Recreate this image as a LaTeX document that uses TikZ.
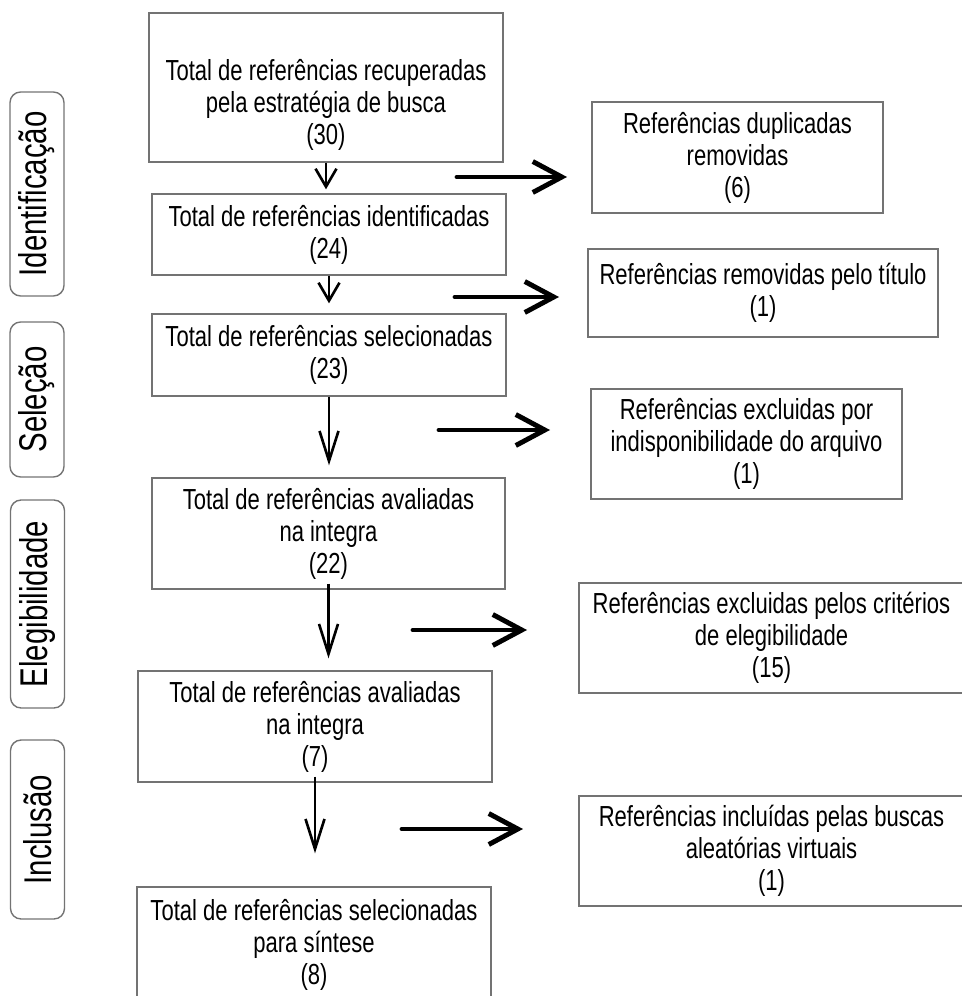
\documentclass[tikz,border=0pt]{standalone}
\usepackage{fontspec}
\setmainfont[FakeStretch=0.76]{Liberation Sans}
\usetikzlibrary{arrows.meta}

\begin{document}
\begin{tikzpicture}[
    x=0.02cm, y=-0.02cm,
    font=\fontsize{16.5pt}{18.2pt}\selectfont,
    refbox/.style={
        draw=black!55, line width=0.8pt, fill=white,
        align=center, inner sep=2pt
    },
    stagebox/.style={
        draw=black!55, line width=0.8pt, rounded corners=6pt,
        minimum height=1.08cm, inner sep=2pt, rotate=90,
        font=\fontsize{22pt}{26pt}\selectfont
    },
    downshort/.style={draw=black, line width=1.5pt,
        -{Straight Barb[length=0.36cm, width=0.42cm]}},
    downlong/.style={draw=black, line width=1.5pt,
        -{Straight Barb[length=0.6cm, width=0.38cm]}},
    sidearr/.style={draw=black, line width=2.8pt, line cap=round,
        -{Straight Barb[length=0.58cm, width=0.62cm]}}
]
\useasboundingbox (0,0) rectangle (961,996);

%% ── Etapas (esquerda) ────────────────────────────────────────────
\node[stagebox, minimum width=4.08cm] (s1) at (37,194)    {Identificação};
\node[stagebox, minimum width=3.10cm] (s2) at (37,399.5)  {Seleção};
\node[stagebox, minimum width=4.16cm] (s3) at (37.5,604)  {Elegibilidade};
\node[stagebox, minimum width=3.58cm] (s4) at (37.5,829.5){Inclusão};

%% ── Coluna principal ─────────────────────────────────────────────
\node[refbox, minimum width=7.08cm, minimum height=2.98cm] (b1) at (326,87.5)
    {\rule{0pt}{1.13cm}Total de referências recuperadas\\pela estratégia de busca\\(30)};
\node[refbox, minimum width=7.08cm, minimum height=1.62cm] (b2) at (329,234.5)
    {Total de referências identificadas\\(24)};
\node[refbox, minimum width=7.08cm, minimum height=1.64cm] (b3) at (329,355)
    {Total de referências selecionadas\\(23)};
\node[refbox, minimum width=7.06cm, minimum height=2.22cm] (b4) at (328.5,533.5)
    {Total de referências avaliadas\\na integra\\(22)};
\node[refbox, minimum width=7.08cm, minimum height=2.22cm] (b5) at (315,726.5)
    {Total de referências avaliadas\\na integra\\(7)};
\node[refbox, minimum width=7.08cm, minimum height=2.32cm] (b6) at (314,945)
    {Total de referências selecionadas\\para síntese\\(8)};

%% ── Coluna da direita ────────────────────────────────────────────
\node[refbox, minimum width=5.82cm, minimum height=2.22cm] (r1) at (737.5,157.5)
    {Referências duplicadas\\removidas\\(6)};
\node[refbox, minimum width=7.00cm, minimum height=1.76cm] (r2) at (763,293)
    {Referências removidas pelo título\\(1)};
\node[refbox, minimum width=6.22cm, minimum height=2.20cm] (r3) at (746.5,444)
    {Referências excluidas por\\indisponibilidade do arquivo\\(1)};
\node[refbox, minimum width=7.70cm, minimum height=2.20cm] (r4) at (771.5,638)
    {Referências excluidas pelos critérios\\de elegibilidade\\(15)};
\node[refbox, minimum width=7.70cm, minimum height=2.20cm] (r5) at (771.5,851)
    {Referências incluídas pelas buscas\\aleatórias virtuais\\(1)};

%% ── Setas para baixo ─────────────────────────────────────────────
\draw[downshort, shorten >=0.08cm] (b1.south) -- (b1.south |- b2.north);
\draw[downshort, shorten >=0.2cm]  (b2.south) -- (b2.south |- b3.north);
\draw[downlong, shorten >=0.24cm]  (b3.south) -- (b3.south |- b4.north);
\draw[downlong, shorten <=-0.12cm, shorten >=0.24cm] (b4.south) -- (b4.south |- b5.north);
\draw[downlong, shorten <=-0.12cm, shorten >=0.66cm] (b5.south) -- (b5.south |- b6.north);

%% ── Setas laterais ───────────────────────────────────────────────
\coordinate (a1s) at (457,177);  \coordinate (a1e) at (567,177);
\coordinate (a2s) at (455,297);  \coordinate (a2e) at (559,297);
\coordinate (a3s) at (439,430);  \coordinate (a3e) at (550,430);
\coordinate (a4s) at (413,630);  \coordinate (a4e) at (527,630);
\coordinate (a5s) at (402,829);  \coordinate (a5e) at (523,829);
\draw[sidearr] (a1s) -- (a1e);
\draw[sidearr] (a2s) -- (a2e);
\draw[sidearr] (a3s) -- (a3e);
\draw[sidearr] (a4s) -- (a4e);
\draw[sidearr] (a5s) -- (a5e);

\end{tikzpicture}
\end{document}
